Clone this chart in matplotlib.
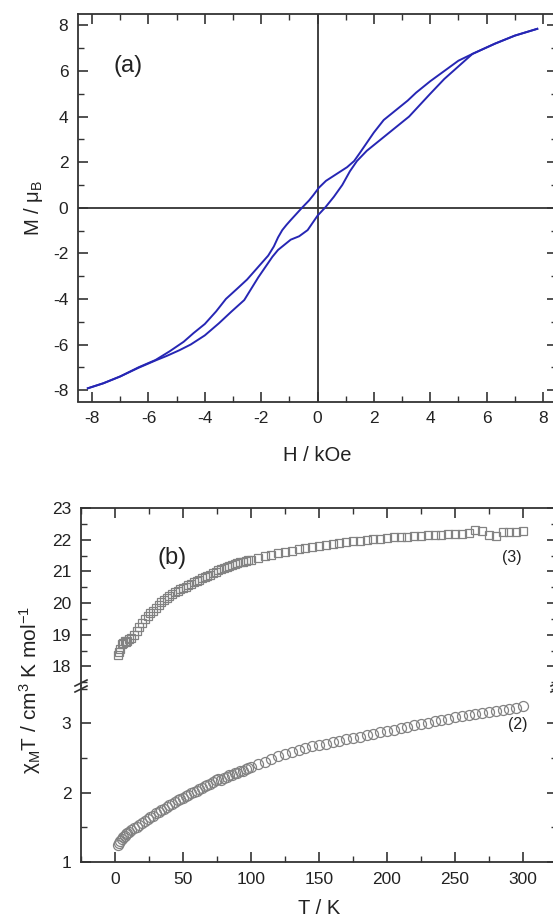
import numpy as np
import matplotlib
matplotlib.use('Agg')
import matplotlib.pyplot as plt
from matplotlib.lines import Line2D
from matplotlib.ticker import MultipleLocator

plt.rcParams['font.family'] = ['Liberation Sans', 'DejaVu Sans']
plt.rcParams['mathtext.default'] = 'regular'
plt.rcParams['axes.unicode_minus'] = False

# ---------------- data: (a) hysteresis loop ----------------
H_down = [7.8, 7.0, 6.3, 5.5, 5.0, 4.5, 4.0, 3.5, 3.2, 2.8, 2.35, 2.0, 1.75, 1.5,
          1.3, 1.05, 0.8, 0.55, 0.3, 0.05, -0.15, -0.3, -0.55, -0.75, -0.95,
          -1.1, -1.25, -1.4, -1.55, -1.75, -2.0, -2.25, -2.5, -2.85, -3.25,
          -3.6, -4.0, -4.4, -4.75, -5.25, -5.75, -6.35, -7.0, -7.6, -8.15]
M_down = [7.85, 7.55, 7.2, 6.75, 6.45, 6.0, 5.55, 5.05, 4.7, 4.3, 3.85, 3.3, 2.85, 2.4,
          2.05, 1.78, 1.58, 1.38, 1.18, 0.88, 0.55, 0.32, 0.0, -0.27, -0.54,
          -0.75, -0.98, -1.3, -1.7, -2.1, -2.45, -2.8, -3.15, -3.55, -4.0,
          -4.55, -5.1, -5.5, -5.88, -6.3, -6.68, -7.0, -7.4, -7.7, -7.92]

H_up = [-8.15, -7.6, -7.0, -6.35, -5.75, -5.35, -4.9, -4.5, -4.0, -3.5, -3.05,
        -2.6, -2.1, -1.85, -1.6, -1.4, -1.2, -0.95, -0.65, -0.35, 0.0, 0.28,
        0.58, 0.88, 1.15, 1.4, 1.75, 2.05, 2.35, 2.65, 2.95, 3.25, 3.55, 4.0,
        4.5, 5.0, 5.5, 6.3, 7.0, 7.8]
M_up = [-7.92, -7.7, -7.4, -7.02, -6.7, -6.5, -6.25, -6.0, -5.6, -5.07, -4.55,
        -4.05, -3.05, -2.6, -2.15, -1.85, -1.65, -1.4, -1.25, -0.98, -0.35, 0.02,
        0.48, 1.0, 1.6, 2.05, 2.5, 2.8, 3.1, 3.4, 3.7, 4.0, 4.4, 5.0,
        5.65, 6.2, 6.75, 7.2, 7.55, 7.85]

# ---------------- data: (b) chi_M T vs T ----------------
T = [2, 3, 4, 5, 6, 7, 8, 9, 10, 12, 14, 16, 18, 20, 22, 24, 26, 28, 30, 32, 34,
     36, 38, 40, 42, 44, 46, 48, 50, 52, 54, 56, 58, 60, 62, 64, 66, 68, 70, 72,
     74, 76, 78, 80, 82, 84, 86, 88, 90, 92, 94, 96, 98, 100, 105, 110, 115, 120,
     125, 130, 135, 140, 145, 150, 155, 160, 165, 170, 175, 180, 185, 190, 195,
     200, 205, 210, 215, 220, 225, 230, 235, 240, 245, 250, 255, 260, 265, 270,
     275, 280, 285, 290, 295, 300]

chiT_3 = [18.35, 18.45, 18.55, 18.7, 18.75, 18.8, 18.78, 18.8, 18.85, 18.9, 19.0,
          19.12, 19.25, 19.38, 19.48, 19.58, 19.67, 19.76, 19.85, 19.95, 20.02,
          20.1, 20.17, 20.23, 20.29, 20.34, 20.39, 20.44, 20.48, 20.52, 20.56,
          20.61, 20.65, 20.7, 20.74, 20.78, 20.82, 20.86, 20.9, 20.95, 20.99,
          21.03, 21.06, 21.1, 21.13, 21.16, 21.19, 21.22, 21.25, 21.28, 21.31,
          21.33, 21.35, 21.37, 21.42, 21.47, 21.52, 21.57, 21.61, 21.65, 21.69,
          21.73, 21.77, 21.8, 21.84, 21.87, 21.9, 21.93, 21.95, 21.97, 21.99,
          22.01, 22.03, 22.05, 22.07, 22.08, 22.1, 22.11, 22.13, 22.14, 22.15,
          22.16, 22.17, 22.18, 22.19, 22.2, 22.31, 22.28, 22.14, 22.13, 22.24,
          22.25, 22.25, 22.26]

chiT_2 = [1.24, 1.27, 1.3, 1.33, 1.36, 1.38, 1.4, 1.42, 1.43, 1.46, 1.49, 1.51,
          1.53, 1.56, 1.59, 1.62, 1.65, 1.67, 1.7, 1.72, 1.75, 1.77, 1.8, 1.82,
          1.84, 1.87, 1.89, 1.91, 1.93, 1.95, 1.97, 1.99, 2.01, 2.03, 2.05, 2.07,
          2.09, 2.11, 2.13, 2.15, 2.19, 2.2, 2.19, 2.21, 2.23, 2.25, 2.26, 2.28,
          2.29, 2.31, 2.32, 2.34, 2.35, 2.37, 2.41, 2.45, 2.49, 2.53, 2.56, 2.59,
          2.62, 2.64, 2.67, 2.69, 2.71, 2.73, 2.75, 2.77, 2.79, 2.81, 2.83, 2.85,
          2.87, 2.89, 2.91, 2.93, 2.95, 2.97, 2.99, 3.01, 3.03, 3.05, 3.07, 3.09,
          3.1, 3.12, 3.14, 3.15, 3.17, 3.18, 3.2, 3.21, 3.22, 3.25]

# ---------------- styling helpers ----------------
SPINE = '#333333'
TXT = '#222222'
TICK_FS = 12.5
LABEL_FS = 14.5


def style_axes(ax, top=True, bottom=True):
    for s in ax.spines.values():
        s.set_color(SPINE)
        s.set_linewidth(1.3)
    ax.tick_params(which='both', direction='in', top=top, bottom=bottom,
                   right=True, left=True, colors=SPINE, labelsize=TICK_FS,
                   labelcolor=TXT)
    ax.tick_params(which='major', length=7, width=1.2, pad=7)
    ax.tick_params(which='minor', length=4, width=1.0)


W, Hh = 553, 923
fig = plt.figure(figsize=(W / 100, Hh / 100), dpi=100)


def rect(l, r, t, b):
    return [l / W, 1 - b / Hh, (r - l) / W, (b - t) / Hh]


# ---------------- panel (a) ----------------
axa = fig.add_axes(rect(78, 557, 14, 401.5))
axa.axhline(0, color=SPINE, lw=1.3, zorder=1)
axa.axvline(0, color=SPINE, lw=1.3, zorder=1)
axa.plot(H_down, M_down, color='#2626b4', lw=1.4, zorder=3)
axa.plot(H_up, M_up, color='#2626b4', lw=1.4, zorder=3)
axa.set_xlim(-8.5, 8.5)
axa.set_ylim(-8.5, 8.5)
axa.xaxis.set_major_locator(MultipleLocator(2))
axa.xaxis.set_minor_locator(MultipleLocator(1))
axa.yaxis.set_major_locator(MultipleLocator(2))
axa.yaxis.set_minor_locator(MultipleLocator(1))
style_axes(axa)
axa.set_xlabel('H / kOe', fontsize=LABEL_FS, labelpad=14, color=TXT)
axa.set_ylabel(r'M / $\mu_{\mathregular{B}}$', fontsize=LABEL_FS, labelpad=6,
               color=TXT)
axa.text(0.075, 0.866, '(a)', transform=axa.transAxes, fontsize=17,
         color=TXT, va='center', ha='left')

# ---------------- panel (b) with broken y axis ----------------
y_break = 686
axh = fig.add_axes(rect(81, 557, 508, y_break))
axl = fig.add_axes(rect(81, 557, y_break, 862), sharex=axh)

mk = dict(ls='none', mfc='none', mec='#828282', mew=0.9)
axh.plot(T, chiT_3, marker='s', ms=6.3, **mk)
axl.plot(T, chiT_2, marker='o', ms=7.2, **mk)

axh.set_xlim(-25, 325)
axh.set_ylim(17.38, 23)
axl.set_ylim(1, 3.54)
axh.xaxis.set_major_locator(MultipleLocator(50))
axh.xaxis.set_minor_locator(MultipleLocator(25))
for a in (axh, axl):
    a.yaxis.set_major_locator(MultipleLocator(1))
    a.yaxis.set_minor_locator(MultipleLocator(0.5))

style_axes(axh, top=True, bottom=False)
style_axes(axl, top=False, bottom=True)
axh.spines['bottom'].set_visible(False)
axl.spines['top'].set_visible(False)
axh.tick_params(labelbottom=False)
axh.set_yticks([18, 19, 20, 21, 22, 23])

axl.set_xlabel('T / K', fontsize=LABEL_FS, labelpad=9, color=TXT)
fig.text(30 / W, 1 - 690 / Hh,
         r'χ$_{\mathregular{M}}$T / cm$^{\mathregular{3}}$ K mol$^{\mathregular{-1}}$',
         rotation=90, fontsize=15, ha='center', va='center', color=TXT)

axh.text(0.16, 0.72, '(b)', transform=axh.transAxes, fontsize=17,
         color=TXT, va='center', ha='left')
axh.text(292, 21.45, '(3)', fontsize=11.5, ha='center', va='center', color=TXT)
axl.text(296, 2.98, '(2)', fontsize=11.5, ha='center', va='center', color=TXT)

# break marks "//" across the y axis
for xb in (81, 557):
    for dy in (-3, 3):
        yc = y_break + dy
        fig.add_artist(Line2D([(xb - 6) / W, (xb + 6) / W],
                              [1 - (yc + 3) / Hh, 1 - (yc - 3) / Hh],
                              color=SPINE, lw=1.2))

fig.savefig('out.png', dpi=100)
